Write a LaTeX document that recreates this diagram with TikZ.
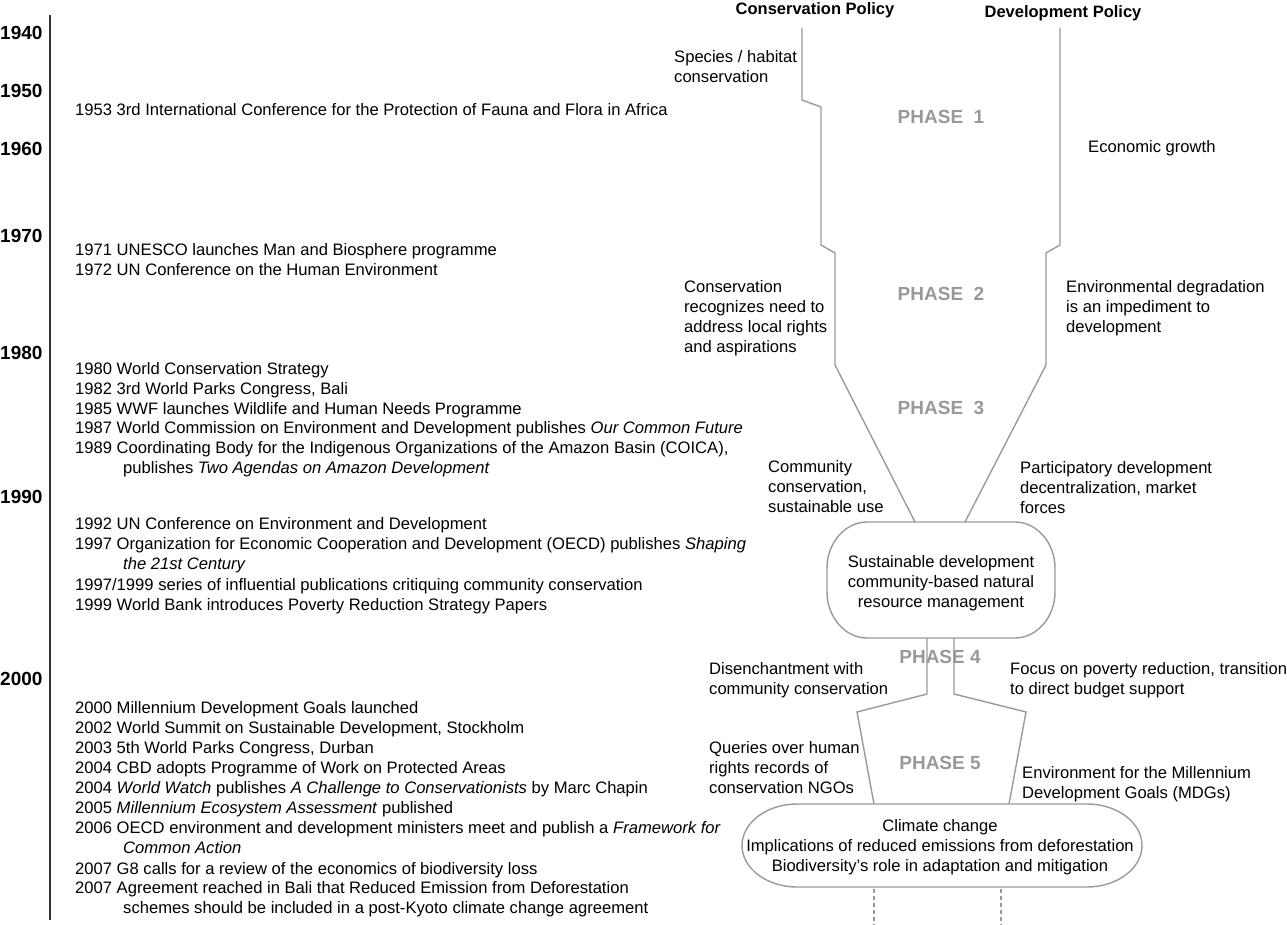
\documentclass[tikz,border=0pt]{standalone}
\usepackage{fontspec}
\setmainfont{Liberation Sans}
\definecolor{linegray}{HTML}{9A9A9A}
\definecolor{phgray}{HTML}{999999}
\definecolor{axisgray}{HTML}{333333}
\begin{document}
\begin{tikzpicture}[x=1pt,y=-1pt,
  ev/.style={anchor=base west, inner sep=0pt, align=left, font=\fontsize{16.6}{20}\selectfont},
  yr/.style={anchor=base west, inner sep=0pt, font=\fontsize{19}{22}\selectfont\bfseries},
  hd/.style={anchor=base, inner sep=0pt, font=\fontsize{16.5}{20}\selectfont\bfseries},
  ph/.style={anchor=base, inner sep=0pt, text=phgray, font=\fontsize{19}{22}\selectfont\bfseries},
  boxtext/.style={inner sep=0pt, align=center, font=\fontsize{16.6}{20}\selectfont},
  pline/.style={draw=linegray, line width=1.4pt, line join=miter},
  axisline/.style={draw=axisgray, line width=1.5pt},
  dline/.style={draw=linegray, line width=1.2pt, dash pattern=on 4pt off 3pt}]
\useasboundingbox (0,0) rectangle (1287,925);

% axis and years
\coordinate (axtop) at (50,15);
\coordinate (axbot) at (50,920);
\draw[axisline] (axtop) -- (axbot);
\node[yr] (y1940) at (0,40) {1940};
\node[yr] (y1950) at (0,98) {1950};
\node[yr] (y1960) at (0,156) {1960};
\node[yr] (y1970) at (0,243) {1970};
\node[yr] (y1980) at (0,359) {1980};
\node[yr] (y1990) at (0,503) {1990};
\node[yr] (y2000) at (0,685) {2000};

% events (multi-line nodes: anchor at the baseline of the last line)
\node[ev] (e1953) at (75,116) {1953 3rd International Conference for the Protection of Fauna and Flora in Africa};
\node[ev] (e1971) at (75,256) {1971 UNESCO launches Man and Biosphere programme};
\node[ev] (e1972) at (75,276) {1972 UN Conference on the Human Environment};
\node[ev] (e1980) at (75,374) {1980 World Conservation Strategy};
\node[ev] (e1982) at (75,394) {1982 3rd World Parks Congress, Bali};
\node[ev] (e1985) at (75,414) {1985 WWF launches Wildlife and Human Needs Programme};
\node[ev] (e1987) at (75,433) {1987 World Commission on Environment and Development publishes \textit{Our Common Future}};
\node[ev] (e1989) at (75,473) {1989 Coordinating Body for the Indigenous Organizations of the Amazon Basin (COICA),\\\hspace*{48pt}publishes \textit{Two Agendas on Amazon Development}};
\node[ev] (e1992) at (75,529) {1992 UN Conference on Environment and Development};
\node[ev] (e1997) at (75,569) {1997 Organization for Economic Cooperation and Development (OECD) publishes \textit{Shaping}\\\hspace*{48pt}\textit{the 21st Century}};
\node[ev] (e1997b) at (75,590) {1997/1999 series of influential publications critiquing community conservation};
\node[ev] (e1999) at (75,610) {1999 World Bank introduces Poverty Reduction Strategy Papers};
\node[ev] (e2000) at (75,713) {2000 Millennium Development Goals launched};
\node[ev] (e2002) at (75,733) {2002 World Summit on Sustainable Development, Stockholm};
\node[ev] (e2003) at (75,753) {2003 5th World Parks Congress, Durban};
\node[ev] (e2004a) at (75,773) {2004 CBD adopts Programme of Work on Protected Areas};
\node[ev] (e2004b) at (75,793) {2004 \textit{World Watch} publishes \textit{A Challenge to Conservationists} by Marc Chapin};
\node[ev] (e2005) at (75,813) {2005 \textit{Millennium Ecosystem Assessment} published};
\node[ev] (e2006) at (75,853) {2006 OECD environment and development ministers meet and publish a \textit{Framework for}\\\hspace*{48pt}\textit{Common Action}};
\node[ev] (e2007a) at (75,874) {2007 G8 calls for a review of the economics of biodiversity loss};
\node[ev] (e2007b) at (75,913) {2007 Agreement reached in Bali that Reduced Emission from Deforestation\\\hspace*{48pt}schemes should be included in a post-Kyoto climate change agreement};

% headings
\node[hd] (hcons) at (815,15) {Conservation Policy};
\node[hd] (hdev) at (1063,18) {Development Policy};

% phase labels
\node[ph] (ph1) at (941,124) {PHASE\ \ 1};
\node[ph] (ph2) at (941,300) {PHASE\ \ 2};
\node[ph] (ph3) at (941,414) {PHASE\ \ 3};
\node[ph] (ph4) at (940,663) {PHASE 4};
\node[ph] (ph5) at (940,769) {PHASE 5};

% side labels
\node[ev] (lspecies) at (674,83) {Species / habitat\\conservation};
\node[ev] (lecon) at (1088,153) {Economic growth};
\node[ev] (lconsrec) at (684,352) {Conservation\\recognizes need to\\address local rights\\and aspirations};
\node[ev] (lenvdeg) at (1066,332) {Environmental degradation\\is an impediment to\\development};
\node[ev] (lcomm) at (768,512) {Community\\conservation,\\sustainable use};
\node[ev] (lpart) at (1020,513) {Participatory development\\decentralization, market\\forces};
\node[ev] (ldis) at (709,694) {Disenchantment with\\community conservation};
\node[ev] (lfocus) at (1010,694) {Focus on poverty reduction, transition\\to direct budget support};
\node[ev] (lquer) at (709,793) {Queries over human\\rights records of\\conservation NGOs};
\node[ev] (lmdg) at (1022,798) {Environment for the Millennium\\Development Goals (MDGs)};

% boxes
\node[boxtext, minimum width=228pt, minimum height=116pt] (box1) at (941,583) {Sustainable development\\community-based natural\\resource management};
\node[boxtext, minimum width=400pt, minimum height=83pt] (box2) at (940,847) {Climate change\\Implications of reduced emissions from deforestation\\Biodiversity’s role in adaptation and mitigation};

\draw[pline] (867,522) -- (1015,522) .. controls (1037,522) and (1055,543) .. (1055,568) -- (1055,592) .. controls (1055,617) and (1037,638) .. (1015,638) -- (867,638) .. controls (845,638) and (827,617) .. (827,592) -- (827,568) .. controls (827,543) and (845,522) .. cycle;
\draw[pline] (797,804) -- (1087,804) .. controls (1117,804) and (1142,822.5) .. (1142,845.5) .. controls (1142,868.5) and (1117,887) .. (1087,887) -- (797,887) .. controls (767,887) and (742,868.5) .. (742,845.5) .. controls (742,822.5) and (767,804) .. cycle;

% policy lines
\coordinate (c1) at (802,28);
\coordinate (c2) at (802,100);
\coordinate (c3) at (821,107);
\coordinate (c4) at (821,245);
\coordinate (c5) at (835,253);
\coordinate (c6) at (835,365);
\coordinate (c7) at (915,522);
\coordinate (d1) at (1060,28);
\coordinate (d2) at (1060,245);
\coordinate (d3) at (1046,253);
\coordinate (d4) at (1046,365);
\coordinate (d5) at (965,522);
\draw[pline] (c1) -- (c2) -- (c3) -- (c4) -- (c5) -- (c6) -- (c7);
\draw[pline] (d1) -- (d2) -- (d3) -- (d4) -- (d5);

% phase 4/5 lines
\coordinate (s1) at (927,638);
\coordinate (s2) at (927,694);
\coordinate (s3) at (857,712);
\coordinate (s4) at (874,804);
\coordinate (t1) at (954,638);
\coordinate (t2) at (954,694);
\coordinate (t3) at (1026,712);
\coordinate (t4) at (1009,804);
\draw[pline] (s1) -- (s2) -- (s3) -- (s4);
\draw[pline] (t1) -- (t2) -- (t3) -- (t4);

% dashed continuation
\coordinate (u1) at (874,889);
\coordinate (u2) at (874,925);
\coordinate (v1) at (1001,889);
\coordinate (v2) at (1001,925);
\draw[dline] (u1) -- (u2);
\draw[dline] (v1) -- (v2);
\end{tikzpicture}
\end{document}
